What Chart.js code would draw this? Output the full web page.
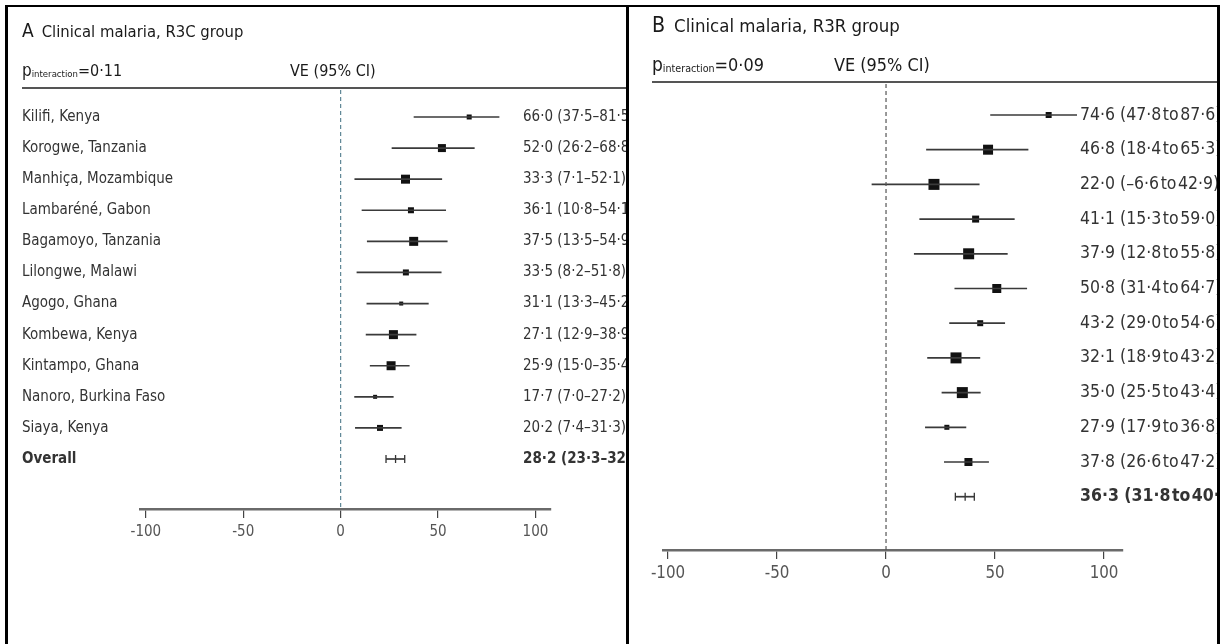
<!DOCTYPE html>
<html>
<head>
<meta charset="utf-8">
<script src="https://cdn.jsdelivr.net/npm/chart.js@4.4.0/dist/chart.umd.min.js"></script>
<style>
body { margin: 0; background: #fff; width: 1225px; height: 644px; overflow: hidden; position: relative; }
canvas { position: absolute; }
.edge { position: absolute; background: #000; }
</style>
</head>
<body>
<div class="edge" style="left:5px;top:5px;width:3px;height:639px"></div>
<div class="edge" style="left:5px;top:5px;width:1215px;height:2px"></div>
<div class="edge" style="left:626px;top:5px;width:3px;height:639px"></div>
<div class="edge" style="left:1217px;top:5px;width:3px;height:639px"></div>
<canvas id="panelA" width="618" height="636" style="left:8px;top:8px"></canvas>
<canvas id="panelB" width="587" height="636" style="left:630px;top:8px"></canvas>
<script>
// Daten
var siteNames = ['Kilifi, Kenya', 'Korogwe, Tanzania', 'Manhiça, Mozambique', 'Lambaréné, Gabon',
    'Bagamoyo, Tanzania', 'Lilongwe, Malawi', 'Agogo, Ghana', 'Kombewa, Kenya', 'Kintampo, Ghana',
    'Nanoro, Burkina Faso', 'Siaya, Kenya', 'Overall'];

// R3C group (letzte Zeile = Overall)
var veA = [66.0, 52.0, 33.3, 36.1, 37.5, 33.5, 31.1, 27.1, 25.9, 17.7, 20.2, 28.2];
var loA = [37.5, 26.2, 7.1, 10.8, 13.5, 8.2, 13.3, 12.9, 15.0, 7.0, 7.4, 23.3];
var hiA = [81.5, 68.8, 52.1, 54.1, 54.9, 51.8, 45.2, 38.9, 35.4, 27.2, 31.3, 32.9];

// R3R group
var veB = [74.6, 46.8, 22.0, 41.1, 37.9, 50.8, 43.2, 32.1, 35.0, 27.9, 37.8, 36.3];
var loB = [47.8, 18.4, -6.6, 15.3, 12.8, 31.4, 29.0, 18.9, 25.5, 17.9, 26.6, 31.8];
var hiB = [87.6, 65.3, 42.9, 59.0, 55.8, 64.7, 54.6, 43.2, 43.4, 36.8, 47.2, 40.5];

var tickValues = [-100, -50, 0, 50, 100];

// Kastengroesse (Gewicht) in px
var boxA = [5, 8, 9, 6, 9, 6, 4, 9, 9, 4, 6];
var boxB = [6, 10, 11, 7, 11, 9, 6, 11, 11, 5, 8];

var FONT = "'Liberation Sans Narrow', 'DejaVu Sans Condensed', 'Open Sans', sans-serif";

function fmt(v) {
    return (v < 0 ? '–' : '') + Math.abs(v).toFixed(1).replace('.', '·');
}

function buildPanel(id, p) {
    var n = p.ve.length;
    var f = p.fs; // Schriftfaktor
    var datasets = [];

    // gestrichelte Nulllinie
    datasets.push({
        data: [{ x: 0, y: p.yMin }, { x: 0, y: p.yMax }],
        showLine: true, pointRadius: 0,
        borderColor: p.zeroColor, borderWidth: 1.2, borderDash: [4, 3]
    });

    // Konfidenzintervalle
    for (var i = 0; i < n; i++) {
        datasets.push({
            data: [{ x: p.lo[i], y: i }, { x: p.hi[i], y: i }],
            showLine: true, pointRadius: 0,
            borderColor: '#3a3a3a', borderWidth: 1.7
        });
    }

    // Punktschaetzer
    datasets.push({
        data: p.ve.slice(0, n - 1).map(function (v, i) { return { x: v, y: i }; }),
        pointStyle: 'rect',
        pointRadius: p.box.map(function (s) { return s / Math.SQRT2; }),
        backgroundColor: '#111', borderWidth: 0
    });

    // Overall: |-|-|
    datasets.push({
        data: [p.lo[n - 1], p.ve[n - 1], p.hi[n - 1]].map(function (v) { return { x: v, y: n - 1 }; }),
        pointStyle: 'line', rotation: 90, pointRadius: 4,
        borderColor: '#333', borderWidth: 1.3
    });

    var textPlugin = {
        id: 'forestText',
        afterDraw: function (chart) {
            var ctx = chart.ctx;
            var ys = chart.scales.y;
            ctx.save();
            ctx.fillStyle = '#1a1a1a';
            ctx.textBaseline = 'alphabetic';
            ctx.textAlign = 'left';

            // Titel
            ctx.font = (19 * f) + 'px ' + FONT;
            ctx.fillText(p.letter, p.textX, p.titleY);
            var tx = p.textX + ctx.measureText(p.letter).width + 8 * f;
            ctx.font = '500 ' + (16.5 * f) + 'px ' + FONT;
            ctx.fillText(p.title, tx, p.titleY);

            // p interaction
            var x = p.textX;
            ctx.font = (17 * f) + 'px ' + FONT;
            ctx.fillText('p', x, p.headY);
            x += ctx.measureText('p').width;
            ctx.font = (9.5 * f) + 'px ' + FONT;
            ctx.fillText('interaction', x, p.headY + 1);
            x += ctx.measureText('interaction').width;
            ctx.font = (16 * f) + 'px ' + FONT;
            ctx.fillText('=' + p.pValue, x, p.headY);
            ctx.fillText('VE (95% CI)', p.veX, p.headY);

            // Linie unter Kopfzeile
            ctx.strokeStyle = '#555';
            ctx.lineWidth = 2;
            ctx.beginPath();
            ctx.moveTo(p.textX, p.ruleY);
            ctx.lineTo(chart.width, p.ruleY);
            ctx.stroke();

            // Zeilen
            ctx.textBaseline = 'middle';
            ctx.fillStyle = '#333';
            for (var i = 0; i < n; i++) {
                var y = ys.getPixelForValue(i);
                var bold = (i === n - 1) ? 'bold ' : '';
                if (p.names) {
                    ctx.font = bold + '15px ' + FONT;
                    ctx.fillText(p.names[i], p.textX, y);
                }
                ctx.font = bold + p.valSize + 'px ' + FONT;
                var txt = fmt(p.ve[i]) + ' (' + fmt(p.lo[i]) + p.sep + fmt(p.hi[i]) + ')';
                ctx.fillText(txt, p.valX, y);
            }
            ctx.restore();
        }
    };

    return new Chart(document.getElementById(id), {
        type: 'scatter',
        data: { datasets: datasets },
        options: {
            responsive: false,
            animation: false,
            events: [],
            layout: { padding: p.padding },
            plugins: { legend: { display: false }, tooltip: { enabled: false } },
            scales: {
                x: {
                    type: 'linear',
                    min: p.xMin, max: p.xMax,
                    afterBuildTicks: function (s) {
                        s.ticks = tickValues.map(function (v) { return { value: v }; });
                    },
                    afterFit: function (s) { s.height = 40; },
                    border: { display: true, color: '#6a6a6a', width: 2.5 },
                    grid: { drawOnChartArea: false, drawTicks: true, tickLength: 9, color: '#444', lineWidth: 1.2 },
                    ticks: { color: '#555', padding: 5, font: { family: FONT, size: 15 * f } }
                },
                y: {
                    type: 'linear', reverse: true,
                    min: p.yMin, max: p.yMax,
                    display: false
                }
            }
        },
        plugins: [textPlugin]
    });
}

buildPanel('panelA', {
    letter: 'A', title: 'Clinical malaria, R3C group', pValue: '0·11', fs: 1,
    names: siteNames, ve: veA, lo: loA, hi: hiA, box: boxA, sep: '–', valSize: 15,
    zeroColor: '#5f8796',
    xMin: -103, xMax: 108, yMin: -0.868, yMax: 12.608,
    padding: { left: 132, right: 75, top: 82, bottom: 95 },
    textX: 14, titleY: 29, headY: 68, veX: 282, ruleY: 80, valX: 515
});

buildPanel('panelB', {
    letter: 'B', title: 'Clinical malaria, R3R group', pValue: '0·09', fs: 1.12,
    names: null, ve: veB, lo: loB, hi: hiB, box: boxB, sep: '\u200ato\u200a', valSize: 17.5,
    zeroColor: '#555',
    xMin: -102.3, xMax: 108.7, yMin: -0.893, yMax: 12.536,
    padding: { left: 33, right: 94, top: 76, bottom: 54 },
    textX: 22, titleY: 24, headY: 63, veX: 204, ruleY: 74, valX: 450
});
</script>
</body>
</html>
